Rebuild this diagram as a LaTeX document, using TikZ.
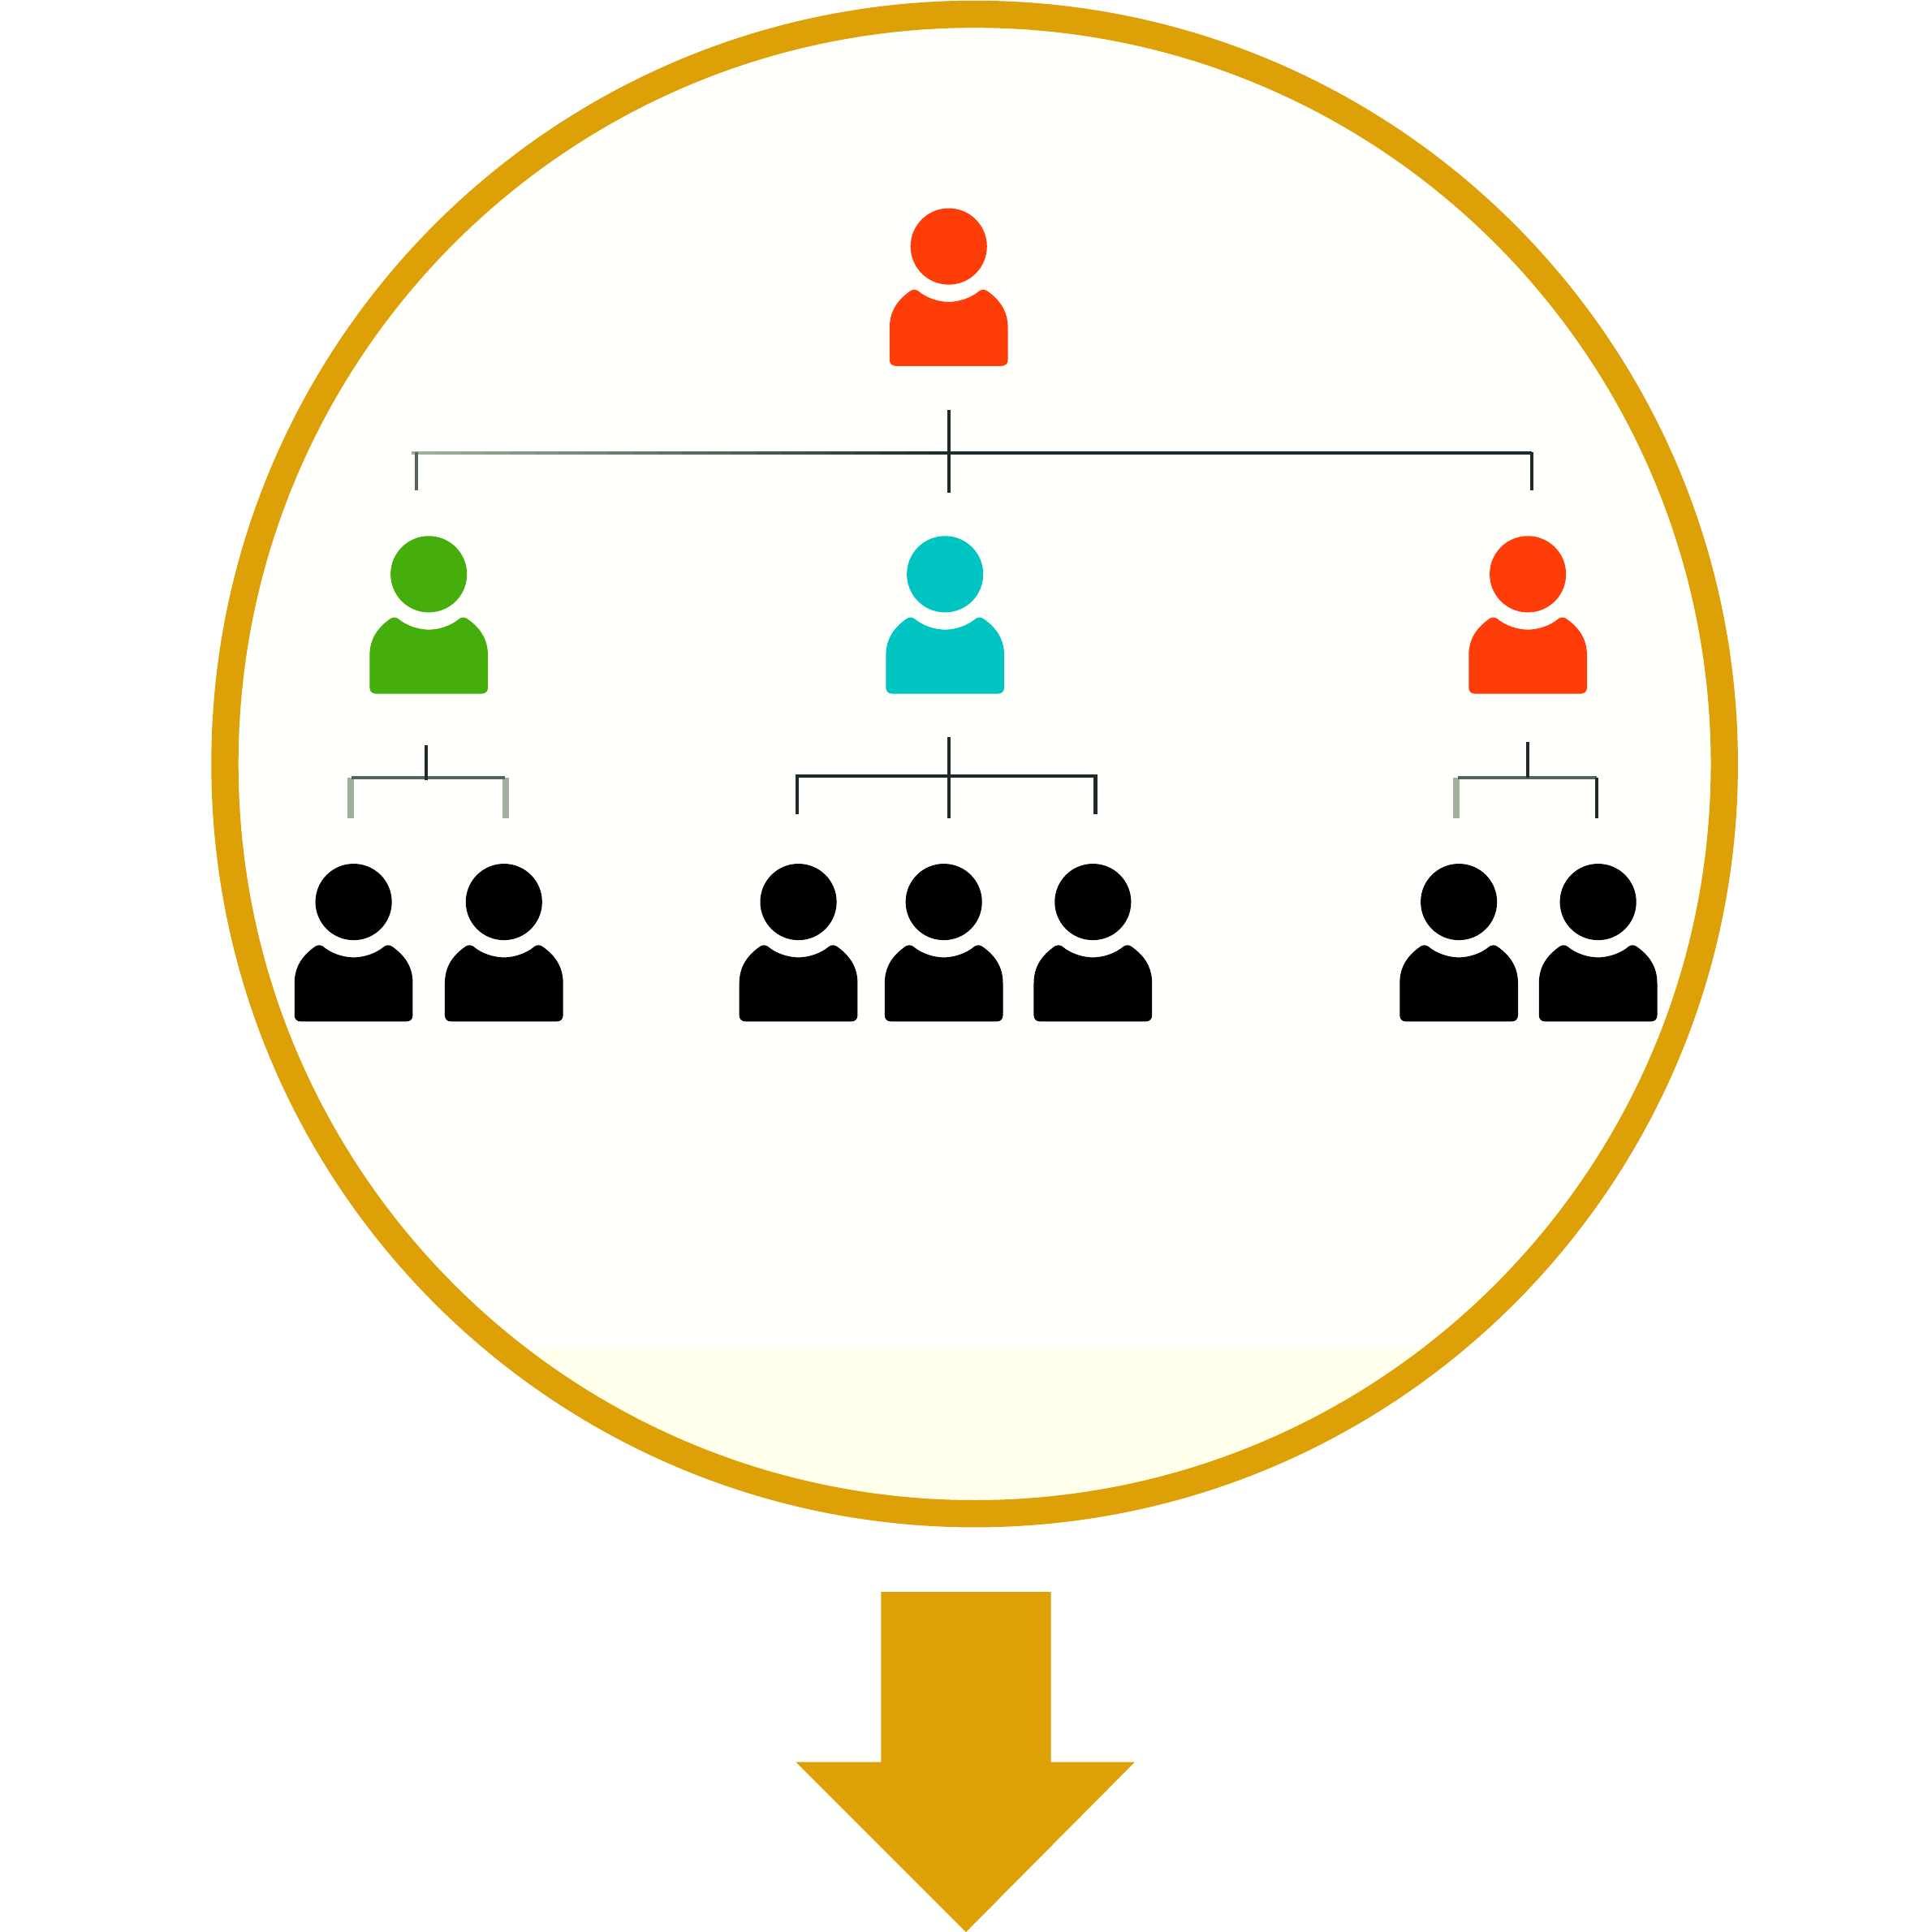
\documentclass[tikz,border=0pt]{standalone}
\definecolor{gold}{HTML}{DDA006}
\definecolor{paper}{HTML}{FFFFFB}
\definecolor{paperlow}{HTML}{FFFFEC}
\definecolor{redp}{HTML}{FF3D08}
\definecolor{greenp}{HTML}{45AD0C}
\definecolor{tealp}{HTML}{00C4C2}
\definecolor{inkline}{HTML}{1F2A2A}
\definecolor{paleline}{HTML}{A2AF9C}
\definecolor{midline}{HTML}{56655A}
\tikzset{
  x=0.01cm,y=-0.01cm,
  person/.pic={
    \fill[pic actions] (0,0) circle[radius=31];
    \fill[pic actions] (-48,92) -- (-48,66)
      .. controls (-48,52) and (-41,43) .. (-31,36)
      .. controls (-29,34.8) and (-27,34.8) .. (-25,36)
      .. controls (-18,42) and (-8,45) .. (0,45)
      .. controls (8,45) and (18,42) .. (25,36)
      .. controls (27,34.8) and (29,34.8) .. (31,36)
      .. controls (41,43) and (48,52) .. (48,66)
      -- (48,92) .. controls (48,95) and (46,97) .. (43,97)
      -- (-43,97) .. controls (-46,97) and (-48,95) .. (-48,92) -- cycle;
  },
  conn/.style={draw=inkline,line width=0.028cm},
  stubpale/.style={draw=paleline,line width=0.05cm},
  stubmid/.style={draw=midline,line width=0.03cm},
  barpart/.style={line width=0.03cm},
}
\begin{document}
\begin{tikzpicture}
\useasboundingbox (0,0) rectangle (1568,1568);
\fill[white] (0,0) rectangle (1568,1568);
% disc
\begin{scope}
  \clip (791,620) circle[radius=608];
  \fill[paper] (0,0) rectangle (1568,1240);
  \fill[paperlow] (0,1095) rectangle (1568,1240);
\end{scope}
\draw[gold,line width=0.22cm] (791,620) circle[radius=608.5];
% people
\pic[fill=redp] (top) at (770,200) {person};
\pic[fill=greenp] (mgreen) at (348,466) {person};
\pic[fill=tealp] (mteal) at (767,466) {person};
\pic[fill=redp] (mred) at (1240,466) {person};
\foreach \n/\px in {a/287,b/409,c/648,d/766,e/887,f/1184,g/1297}
  \pic[fill=black] (low\n) at (\px,732) {person};
% connector coordinates
\coordinate (t0) at (770,333); \coordinate (t1) at (770,400);
\coordinate (tm) at (774,367.5); \coordinate (tr) at (1243,367.5);
\coordinate (tla) at (338,367); \coordinate (tlb) at (338,398);
\coordinate (tra) at (1243,367); \coordinate (trb) at (1243,398);
\coordinate (l0) at (346,605); \coordinate (l1) at (346,633);
\coordinate (lla) at (285,631); \coordinate (llb) at (410,631);
\coordinate (llc) at (284.5,664); \coordinate (lld) at (410.5,664);
\coordinate (lle) at (284.5,631); \coordinate (llf) at (410.5,631);
\coordinate (c0) at (770,598); \coordinate (c1) at (770,664);
\coordinate (cla) at (647,630); \coordinate (clb) at (889,630);
\coordinate (clc) at (647,661); \coordinate (cld) at (889,661);
\coordinate (r0) at (1240,602); \coordinate (r1) at (1240,631);
\coordinate (rla) at (1183,631); \coordinate (rlb) at (1296,631);
\coordinate (rlc) at (1182,664); \coordinate (rld) at (1296,664);
\coordinate (rle) at (1182,631);
% top bracket: bar fades from pale at the left to dark
\foreach \i in {0,...,21}{
  \pgfmathsetmacro{\xa}{334+20*\i}
  \pgfmathsetmacro{\xb}{354.5+20*\i}
  \pgfmathsetmacro{\p}{4.7*\i}
  \draw[barpart,draw=inkline!\p!paleline] (\xa,367.5) -- (\xb,367.5);
}
\draw[barpart,draw=inkline] (tm) -- (tr);
\draw[stubmid] (tla) -- (tlb);
\draw[conn] (tra) -- (trb);
\draw[conn] (t0) -- (t1);
% left bracket
\draw[stubpale] (llc) -- (lle);
\draw[stubpale] (lld) -- (llf);
\draw[stubmid] (lla) -- (llb);
\draw[conn] (l0) -- (l1);
% centre bracket
\draw[conn] (clc) -- (cla) -- (clb) -- (cld);
\draw[conn] (c0) -- (c1);
% right bracket
\draw[stubpale] (rlc) -- (rle);
\draw[stubmid] (rla) -- (rlb);
\draw[conn] (rld) -- (rlb);
\draw[conn] (r0) -- (r1);
% arrow
\fill[gold] (715,1292) -- (853,1292) -- (853,1430) -- (921,1430) -- (784,1568) -- (646,1430) -- (715,1430) -- cycle;
\end{tikzpicture}
\end{document}
